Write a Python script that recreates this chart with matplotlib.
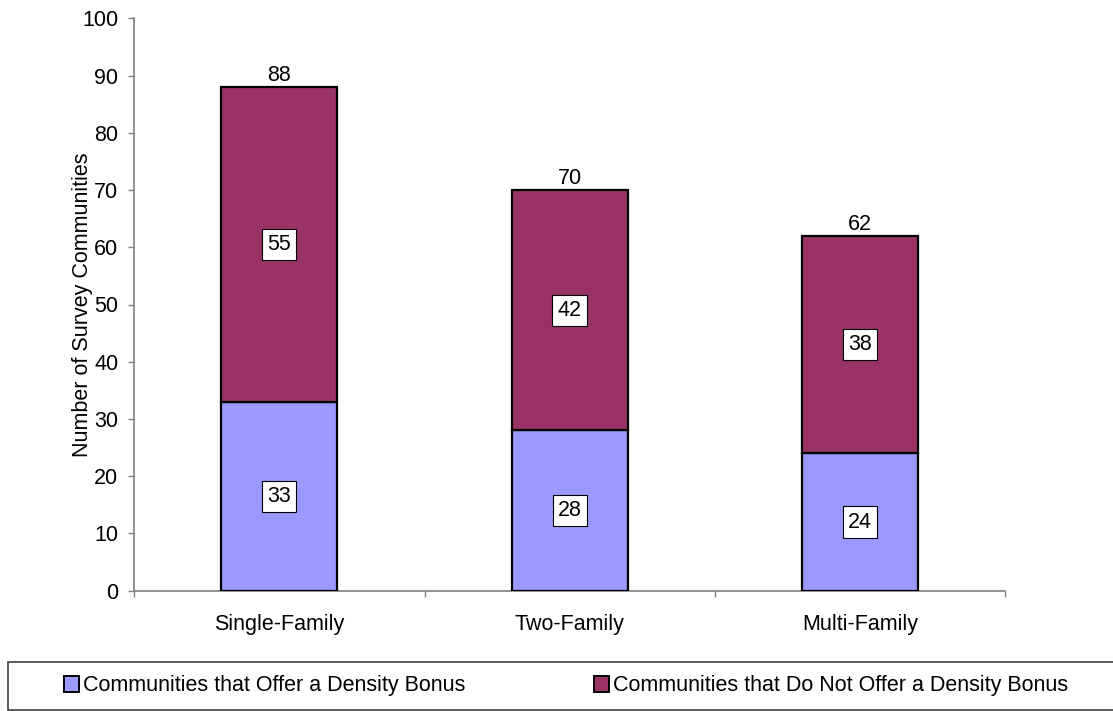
import matplotlib
matplotlib.use("Agg")
import matplotlib.pyplot as plt
from matplotlib.patches import Rectangle, Patch

plt.rcParams['font.family'] = ['Liberation Sans', 'DejaVu Sans']

categories = ["Single-Family", "Two-Family", "Multi-Family"]
offer_bonus = [33, 28, 24]
no_bonus = [55, 42, 38]
totals = [88, 70, 62]
series_labels = ["Communities that Offer a Density Bonus",
                 "Communities that Do Not Offer a Density Bonus"]
colors = ["#9999FF", "#993366"]
yticks = list(range(0, 101, 10))

FS = 15.5
W, H = 1113, 711

fig = plt.figure(figsize=(W / 100, H / 100), dpi=100)
ax = fig.add_axes([134.3 / W, 1 - 590.7 / H, 870.7 / W, 572.4 / H])

x = list(range(len(categories)))
width = 0.4
ax.bar(x, offer_bonus, width, color=colors[0], edgecolor="black", linewidth=1.6, zorder=3)
ax.bar(x, no_bonus, width, bottom=offer_bonus, color=colors[1], edgecolor="black",
       linewidth=1.6, zorder=3)

box = dict(boxstyle="square,pad=0.24", facecolor="white", edgecolor="black", linewidth=0.8)
for xi, a, b, t in zip(x, offer_bonus, no_bonus, totals):
    ax.text(xi, a / 2, f"{a}", ha="center", va="center", fontsize=FS, bbox=box, zorder=4)
    ax.text(xi, a + b / 2, f"{b}", ha="center", va="center", fontsize=FS, bbox=box, zorder=4)
    ax.annotate(f"{t}", (xi, t), xytext=(0, 0.5), textcoords="offset points",
                ha="center", va="bottom", fontsize=FS, zorder=4)

ax.set_xlim(-0.5, 2.5)
ax.set_ylim(0, 100)
ax.set_yticks(yticks)
ax.tick_params(axis="y", length=4.5, width=1, color="#808080", labelsize=FS,
               direction="out", pad=7)

ax.set_xticks([-0.5, 0.5, 1.5, 2.5])
ax.set_xticklabels([])
ax.set_xticks(x, minor=True)
ax.set_xticklabels(categories, minor=True)
ax.tick_params(axis="x", which="major", length=4.5, width=1, color="#808080", direction="out")
ax.tick_params(axis="x", which="minor", length=0, labelsize=FS, pad=17)

for side in ("top", "right"):
    ax.spines[side].set_visible(False)
for side in ("left", "bottom"):
    ax.spines[side].set_color("#808080")
    ax.spines[side].set_linewidth(1.2)

ax.set_ylabel("Number of Survey Communities", fontsize=FS)
ax.yaxis.set_label_coords((93 - 134.3) / 870.7, 0.5)

# legend frame spanning the figure width
fig.patches.append(Rectangle((8 / W, 1 - 710 / H), 1.2, 48 / H,
                             transform=fig.transFigure, facecolor="white",
                             edgecolor="#404040", linewidth=1.2))

anchors = [64 / W, 594 / W]
for lbl, col, ax_x in zip(series_labels, colors, anchors):
    handle = Patch(facecolor=col, edgecolor="black", linewidth=1.4)
    fig.legend([handle], [lbl], loc="center left", bbox_to_anchor=(ax_x, 1 - 686 / H),
               frameon=False, fontsize=FS, handlelength=0.7, handleheight=0.7,
               handletextpad=0.2, borderpad=0, borderaxespad=0)

fig.savefig("out.png", dpi=100)
